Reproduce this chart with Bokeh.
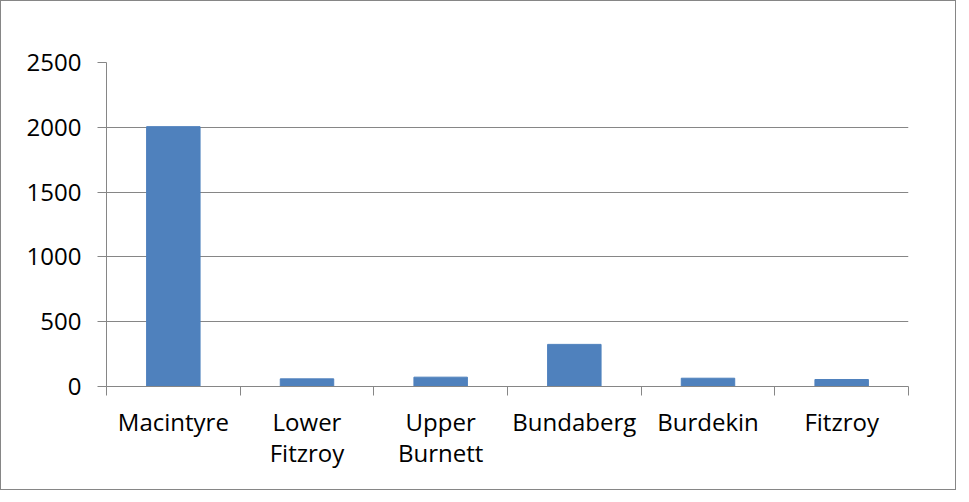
from bokeh.plotting import figure
from bokeh.models import FixedTicker, ColumnDataSource, Range1d
from bokeh.embed import file_html
from bokeh.resources import INLINE

categories = ["Macintyre", "Lower\nFitzroy", "Upper\nBurnett", "Bundaberg", "Burdekin", "Fitzroy"]
values = [2005, 59, 72, 325, 64, 54]
y_ticks = [0, 500, 1000, 1500, 2000, 2500]

n = len(categories)
xs = [i + 0.5 for i in range(n)]
src = ColumnDataSource(dict(x=xs, top=values))

GRAY = "#868686"
FONT = "Open Sans"
FS = "24px"

p = figure(width=956, height=490, output_backend="svg", toolbar_location=None,
           x_range=Range1d(0, n), y_range=Range1d(0, 2500),
           min_border_left=105, min_border_right=49, min_border_top=61, min_border_bottom=105)
p.styles = {"border": "1px solid #868686"}
p.outline_line_color = None

p.vbar(x="x", top="top", width=0.4, source=src, fill_color="#4F81BD", line_color="#4F81BD", line_width=1)

xa = p.xaxis[0]
xa.ticker = FixedTicker(ticks=xs, minor_ticks=list(range(n + 1)))
xa.major_label_overrides = {x: c for x, c in zip(xs, categories)}
xa.major_tick_out = 0
xa.major_tick_in = 0
xa.minor_tick_out = 9
xa.minor_tick_in = 0
xa.minor_tick_line_color = GRAY
xa.axis_line_color = GRAY
xa.major_label_text_font = FONT
xa.major_label_text_font_size = FS
xa.major_label_text_line_height = 0.95
xa.major_label_text_color = "#000000"
xa.major_label_standoff = 9

ya = p.yaxis[0]
ya.ticker = FixedTicker(ticks=y_ticks)
ya.major_tick_out = 9
ya.major_tick_in = 0
ya.minor_tick_line_color = None
ya.major_tick_line_color = GRAY
ya.axis_line_color = GRAY
ya.major_label_text_font = FONT
ya.major_label_text_font_size = FS
ya.major_label_text_color = "#000000"
ya.major_label_standoff = 16

p.xgrid.grid_line_color = None
p.ygrid.ticker = FixedTicker(ticks=y_ticks)
p.ygrid.grid_line_color = GRAY
p.ygrid.grid_line_width = 1

open("out.html", "w").write(file_html(p, INLINE))
